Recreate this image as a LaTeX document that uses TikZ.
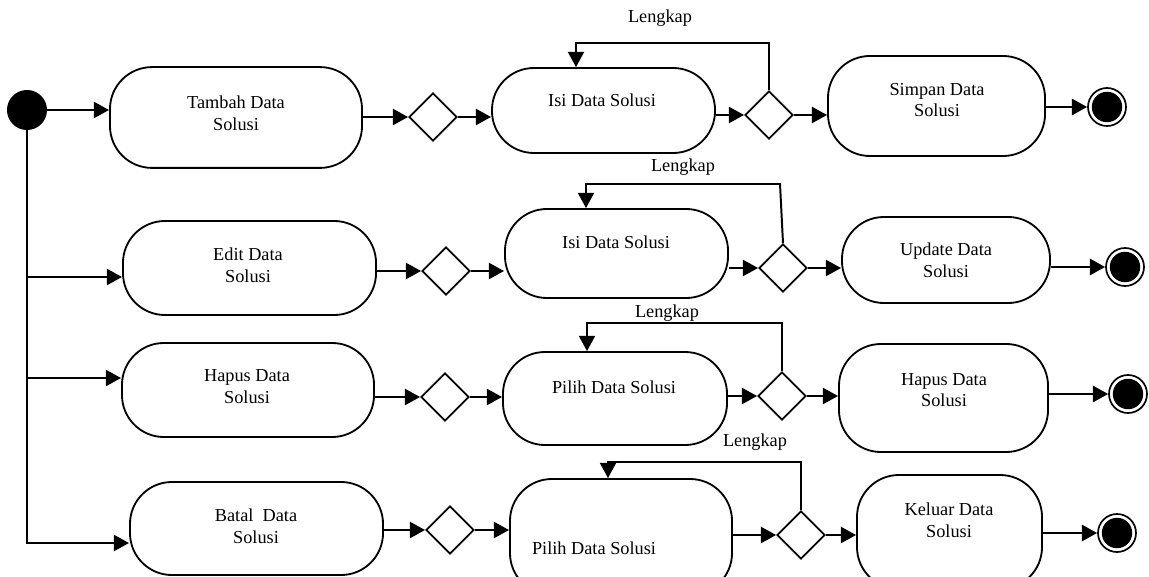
\documentclass[tikz,border=0pt]{standalone}
\usepackage{fontspec}
\setmainfont{Liberation Serif}
\usetikzlibrary{shapes.geometric,arrows.meta}

\begin{document}
\begin{tikzpicture}[x=0.025cm,y=-0.025cm,font=\fontsize{13}{15.5}\selectfont]
                \tikzstyle{act}=[draw,line width=1.3pt,rounded corners=1.05cm,inner sep=0]
                \tikzstyle{txt}=[align=center,inner sep=0]
                \tikzstyle{choice}=[diamond,draw,line width=1.3pt,minimum width=1.2cm,minimum height=1.2cm,inner sep=0]
                \tikzstyle{start node}=[circle,fill=black,minimum size=1cm,inner sep=0]
                \tikzstyle{end node}=[circle,draw,line width=1.2pt,minimum size=0.95cm,inner sep=0,
                  path picture={\fill (path picture bounding box.center) circle (0.38cm);}]
                \tikzstyle{flow}=[line width=1.8pt,-{Triangle[length=0.38cm,width=0.4cm]}]
                \tikzstyle{back}=[line width=1.4pt,-{Triangle[length=0.38cm,width=0.4cm]}]
                \useasboundingbox (0,0) rectangle (1149,577);
                \clip (0,0) rectangle (1149,577);
                % row 1
                \node(start)[start node] at (27,110){};
                \node(tambah)[act,minimum width=6.3cm,minimum height=2.52cm] at (236,117.5){};
                \node(tambah-t)[txt] at (236,113){Tambah Data\\Solusi};
                \node(d1a)[choice] at (433,117){};
                \node(isiA)[act,minimum width=5.575cm,minimum height=2.125cm] at (603.5,110.5){};
                \node(isiA-t)[txt] at (602,100){Isi Data Solusi};
                \node(d1b)[choice] at (769,115){};
                \node(simpan)[act,minimum width=5.425cm,minimum height=2.5cm] at (936.5,106){};
                \node(simpan-t)[txt] at (937,100){Simpan Data\\Solusi};
                \node(end1)[end node] at (1107,107){};
                \node(lk1)[txt] at (660,18){Lengkap};
                \coordinate(l1) at (576,43);
                % row 2
                \node(edit)[act,minimum width=6.325cm,minimum height=2.35cm] at (249.5,268){};
                \node(edit-t)[txt] at (248,265){Edit Data\\Solusi};
                \node(d2a)[choice] at (446,271){};
                \node(isiB)[act,minimum width=5.575cm,minimum height=2.225cm] at (616.5,253.5){};
                \node(isiB-t)[txt] at (616,242){Isi Data Solusi};
                \node(d2b)[choice] at (783,268){};
                \node(update)[act,minimum width=5.2cm,minimum height=2.15cm] at (946,260){};
                \node(update-t)[txt] at (946,260.5){Update Data\\Solusi};
                \node(end2)[end node] at (1125,267){};
                \node(lk2)[txt] at (683,167){Lengkap};
                \coordinate(l2a) at (780,184);
                \coordinate(l2) at (586,184);
                \coordinate(b2) at (27,277);
                % row 3
                \node(hapusA)[act,minimum width=6.3cm,minimum height=2.35cm] at (248,390){};
                \node(hapusA-t)[txt] at (247,386.5){Hapus Data\\Solusi};
                \node(d3a)[choice] at (445,397){};
                \node(pilihA)[act,minimum width=5.6cm,minimum height=2.325cm] at (615,398.5){};
                \node(pilihA-t)[txt] at (614,387){Pilih Data Solusi};
                \node(d3b)[choice] at (782,396){};
                \node(hapusB)[act,minimum width=5.225cm,minimum height=2.7cm] at (943.5,398){};
                \node(hapusB-t)[txt] at (944,390){Hapus Data\\Solusi};
                \node(end3)[end node] at (1128,394){};
                \node(lk3)[txt] at (667,313){Lengkap};
                \coordinate(l3) at (587,323);
                \coordinate(b3) at (27,378);
                % row 4
                \node(batal)[act,minimum width=6.325cm,minimum height=2.325cm] at (256.5,528.5){};
                \node(batal-t)[txt] at (256,526){Batal\ \ Data\\Solusi};
                \node(d4a)[choice] at (450,530){};
                \node(pilihB)[act,minimum width=5.55cm,minimum height=2.9cm] at (621,537){};
                \node(pilihB-t)[txt] at (594,548){Pilih Data Solusi};
                \node(d4b)[choice] at (801,535){};
                \node(keluar)[act,minimum width=4.625cm,minimum height=2.85cm] at (949.5,532){};
                \node(keluar-t)[txt] at (949,520.5){Keluar Data\\Solusi};
                \node(end4)[end node] at (1117,533){};
                \node(lk4)[txt] at (755,442){Lengkap};
                \coordinate(l4) at (608,462);
                \coordinate(b4) at (27,543);
                % flows
                \draw[flow] (start) -- (tambah.west |- start);
                \draw[flow] (tambah.east |- d1a) -- (d1a);
                \draw[flow] (d1a) -- (isiA.west |- d1a);
                \draw[flow] (isiA.east |- d1b) -- (d1b);
                \draw[flow] (d1b) -- (simpan.west |- d1b);
                \draw[flow] (simpan.east |- end1) -- (end1);
                \draw[back] (d1b.north) |- (l1) -- (l1 |- isiA.north);
                \draw[flow] (start.south) |- (batal.west |- b4);
                \draw[flow] (b2) -- (edit.west |- b2);
                \draw[flow] (b3) -- (hapusA.west |- b3);
                \draw[flow] (edit.east |- d2a) -- (d2a);
                \draw[flow] (d2a) -- (isiB.west |- d2a);
                \draw[flow] (isiB.east |- d2b) -- (d2b);
                \draw[flow] (d2b) -- (update.west |- d2b);
                \draw[flow] (update.east |- end2) -- (end2);
                \draw[back] (d2b.north) -- (l2a) -- (l2) -- (l2 |- isiB.north);
                \draw[flow] (hapusA.east |- d3a) -- (d3a);
                \draw[flow] (d3a) -- (pilihA.west |- d3a);
                \draw[flow] (pilihA.east |- d3b) -- (d3b);
                \draw[flow] (d3b) -- (hapusB.west |- d3b);
                \draw[flow] (hapusB.east |- end3) -- (end3);
                \draw[back] (d3b.north) |- (l3) -- (l3 |- pilihA.north);
                \draw[flow] (batal.east |- d4a) -- (d4a);
                \draw[flow] (d4a) -- (pilihB.west |- d4a);
                \draw[flow] (pilihB.east |- d4b) -- (d4b);
                \draw[flow] (d4b) -- (keluar.west |- d4b);
                \draw[flow] (keluar.east |- end4) -- (end4);
                \draw[back] (d4b.north) |- (l4) -- (l4 |- pilihB.north);
            \end{tikzpicture}
\end{document}
